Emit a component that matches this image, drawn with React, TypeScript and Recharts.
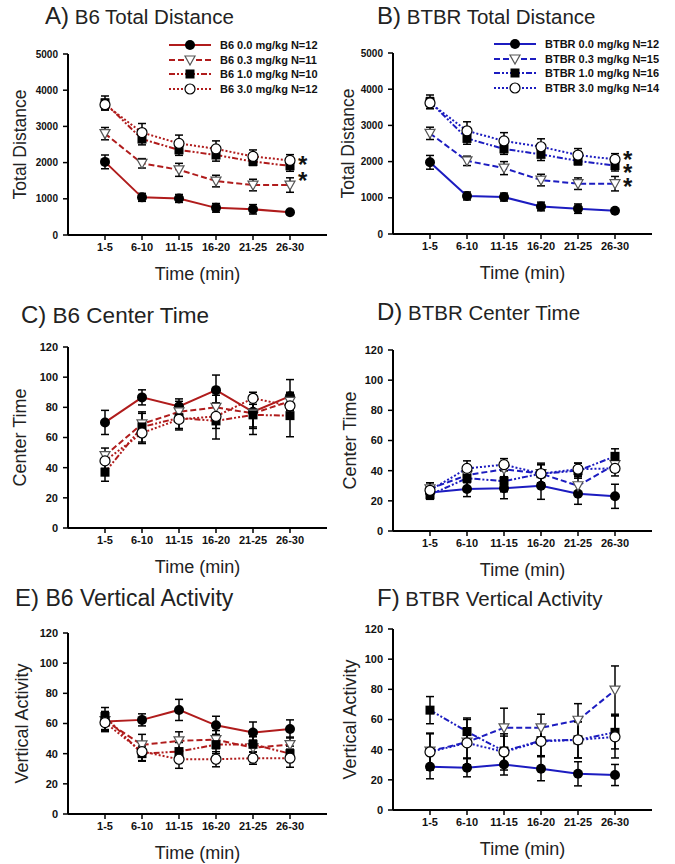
import React from "react";
import { LineChart, Line, XAxis, YAxis, ErrorBar, Legend } from "recharts";

const timeBins = ["1-5", "6-10", "11-15", "16-20", "21-25", "26-30"];
const doseLabels = ["0.0", "0.3", "1.0", "3.0"];
const b6Counts = [12, 11, 10, 12];
const btbrCounts = [12, 15, 16, 14];

// one row per dose (0.0, 0.3, 1.0, 3.0), one value per time bin
const b6DistMean = [
  [2020, 1040, 1010, 750, 710, 630],
  [2800, 1980, 1800, 1490, 1380, 1380],
  [3650, 2650, 2350, 2210, 2030, 1910],
  [3600, 2830, 2530, 2380, 2170, 2060],
];
const b6DistErr = [
  [190, 110, 110, 120, 130, 50],
  [170, 130, 180, 160, 160, 200],
  [190, 160, 150, 170, 110, 150],
  [150, 250, 230, 220, 180, 160],
];
const btbrDistMean = [
  [1980, 1050, 1020, 760, 700, 640],
  [2780, 2020, 1820, 1490, 1390, 1390],
  [3650, 2640, 2350, 2200, 2020, 1890],
  [3620, 2850, 2570, 2410, 2180, 2060],
];
const btbrDistErr = [
  [190, 110, 110, 120, 130, 50],
  [170, 130, 180, 160, 160, 200],
  [190, 160, 150, 170, 110, 150],
  [150, 250, 230, 220, 180, 160],
];
const b6CenterMean = [
  [70, 86.6, 80.6, 91.4, 77, 87.4],
  [48, 69, 77, 80, 76, 84],
  [37, 67, 73, 71, 75, 74.5],
  [44.5, 63, 72, 74, 86, 81],
];
const b6CenterErr = [
  [8, 5, 5, 10, 10, 11],
  [5, 7, 7, 8, 10, 6],
  [6, 10, 8, 12, 13, 14],
  [5, 7, 6, 8, 4, 8],
];
const btbrCenterMean = [
  [25.5, 27.8, 28.4, 30, 24.7, 23],
  [28, 37, 41, 38, 30, 44],
  [24, 35, 33, 38, 40, 49.5],
  [27, 41.5, 44, 38, 41, 41.5],
];
const btbrCenterErr = [
  [3, 5, 7, 9, 7, 8],
  [4, 5, 5, 6, 6, 5],
  [3, 6, 7, 6, 5, 5],
  [5, 5, 4, 7, 4, 5],
];
const b6VertMean = [
  [61.3, 62.4, 69, 58.8, 54, 56.4],
  [62, 45.8, 48.5, 49.3, 44, 46],
  [64.6, 40, 41.4, 46, 46.2, 40],
  [60.6, 41.4, 36.3, 36.3, 37, 37],
];
const b6VertErr = [
  [6, 4, 7, 6, 7, 6],
  [6, 7, 6, 6, 5, 5],
  [6, 5, 6, 6, 5, 5],
  [6, 6, 6, 5, 4, 6],
];
const btbrVertMean = [
  [28.7, 28, 30.2, 27.4, 24, 23.2],
  [39, 45, 54.5, 54.5, 59.5, 79.5],
  [66.2, 52, 39, 46, 46.5, 51.5],
  [38.5, 44.5, 38.5, 45.5, 46.5, 48.5],
];
const btbrVertErr = [
  [8, 6, 7, 8, 8, 7],
  [12, 15, 13, 9, 11, 16],
  [9, 9, 10, 10, 12, 11],
  [12, 10, 12, 10, 12, 14],
];

const distTicks = [0, 1000, 2000, 3000, 4000, 5000];
const pctTicks = [0, 20, 40, 60, 80, 100, 120];

const RED = "#b01c1c";
const BLUE = "#1c1cc0";
const font = "Arial, 'Liberation Sans', sans-serif";

const seriesStyle = [
  { dash: undefined, shape: "circle" },
  { dash: "6 3", shape: "triangle" },
  { dash: "6 2 2 2 2 2", shape: "square" },
  { dash: "2 2", shape: "open" },
];

const Marker = ({ shape, cx, cy }: any) => {
  if (shape === "circle") return <circle cx={cx} cy={cy} r={5} fill="#000" />;
  if (shape === "square")
    return <rect x={cx - 4.5} y={cy - 4.5} width={9} height={9} fill="#000" />;
  if (shape === "triangle")
    return (
      <polygon
        points={`${cx - 5},${cy - 4} ${cx + 5},${cy - 4} ${cx},${cy + 5}`}
        fill="#fff"
        stroke="#555"
        strokeWidth={1.2}
      />
    );
  return <circle cx={cx} cy={cy} r={5} fill="#fff" stroke="#000" strokeWidth={1.2} />;
};

const LegendBox = ({ strain, counts, color }: any) => (
  <div style={{ fontFamily: font, fontSize: 11, fontWeight: "bold", color: "#111" }}>
    {doseLabels.map((d, i) => (
      <div key={d} style={{ display: "flex", alignItems: "center", height: 14.5 }}>
        <svg width={44} height={14}>
          <line
            x1={1}
            y1={7}
            x2={43}
            y2={7}
            stroke={color}
            strokeWidth={2}
            strokeDasharray={seriesStyle[i].dash}
          />
          <Marker shape={seriesStyle[i].shape} cx={22} cy={7} />
        </svg>
        <span style={{ marginLeft: 8, whiteSpace: "nowrap" }}>
          {`${strain} ${d} mg/kg N=${counts[i]}`}
        </span>
      </div>
    ))}
  </div>
);

type PanelProps = {
  left: number;
  top: number;
  letter: string;
  title: string;
  titleLeft: number;
  titleCenter: number;
  titleSize: number;
  strain: string;
  counts: number[];
  color: string;
  means: number[][];
  errs: number[][];
  yMax: number;
  yTicks: number[];
  yTickSize: number;
  yLabel: string;
  yLabelSize: number;
  yTitleX: number;
  legend?: boolean;
  stars?: { s: number; dy: number }[];
};

const Panel = (p: PanelProps) => {
  const rows = timeBins.map((t, j) => {
    const r: any = { x: j + 1, bin: t };
    p.means.forEach((m, i) => {
      r[`m${i}`] = m[j];
      r[`e${i}`] = p.errs[i][j];
    });
    return r;
  });

  const yTitle = (lp: any) => {
    const vb = lp.viewBox || {};
    const cy = (vb.y ?? 55) + (vb.height ?? 181) / 2;
    return (
      <text
        x={p.yTitleX}
        y={cy}
        transform={`rotate(-90 ${p.yTitleX} ${cy})`}
        textAnchor="middle"
        dominantBaseline="central"
        fontFamily={font}
        fontSize={p.yLabelSize}
        fill="#222"
      >
        {p.yLabel}
      </text>
    );
  };

  const starLabel = (i: number) => {
    const st = (p.stars || []).find((s) => s.s === i);
    if (!st) return undefined;
    return (lp: any) => {
      if (lp.index !== 5) return null;
      const x = lp.x ?? lp.viewBox?.x;
      const y = lp.y ?? lp.viewBox?.y;
      return (
        <text
          key={`star${i}`}
          x={x + 8}
          y={y + 13 + st.dy}
          fontFamily={font}
          fontSize={24}
          fontWeight="bold"
          fill="#111"
        >
          *
        </text>
      );
    };
  };

  return (
    <div style={{ position: "absolute", left: p.left, top: p.top, width: 340, height: 290 }}>
      <div
        style={{
          position: "absolute",
          left: p.titleLeft,
          top: p.titleCenter - 14,
          lineHeight: "28px",
          fontFamily: font,
          color: "#222",
          whiteSpace: "nowrap",
        }}
      >
        <span style={{ fontSize: 24 }}>{p.letter}</span>
        <span style={{ fontSize: p.titleSize }}> {p.title}</span>
      </div>
      <div style={{ position: "absolute", left: 0, top: 0 }}>
        <LineChart
          width={340}
          height={290}
          data={rows}
          margin={{ top: 55, right: 13, bottom: 4, left: 18 }}
        >
          <XAxis
            type="number"
            dataKey="x"
            domain={[0, 7]}
            ticks={[1, 2, 3, 4, 5, 6]}
            interval={0}
            tickFormatter={(v: number) => timeBins[v - 1]}
            height={50}
            tickSize={5}
            tickMargin={3}
            axisLine={{ stroke: "#000", strokeWidth: 2 }}
            tickLine={{ stroke: "#000", strokeWidth: 1.5 }}
            tick={{ fontSize: 11, fontWeight: "bold", fill: "#111", fontFamily: font }}
            label={{
              value: "Time (min)",
              position: "insideBottom",
              offset: 5,
              style: { fontSize: 18, fill: "#222", fontFamily: font },
            }}
          />
          <YAxis
            type="number"
            domain={[0, p.yMax]}
            ticks={p.yTicks}
            interval={0}
            width={50}
            tickSize={5}
            tickMargin={5}
            axisLine={{ stroke: "#000", strokeWidth: 2 }}
            tickLine={{ stroke: "#000", strokeWidth: 1.5 }}
            tick={{ fontSize: p.yTickSize, fontWeight: "bold", fill: "#111", fontFamily: font }}
            label={{ value: p.yLabel, content: yTitle }}
          />
          {p.legend && (
            <Legend
              layout="horizontal"
              verticalAlign="middle"
              align="center"
              wrapperStyle={{ left: 168, top: 39, width: "auto", height: "auto" }}
              content={() => <LegendBox strain={p.strain} counts={p.counts} color={p.color} />}
            />
          )}
          {doseLabels.map((d, i) => (
            <Line
              key={d}
              type="linear"
              dataKey={`m${i}`}
              name={`${p.strain} ${d} mg/kg N=${p.counts[i]}`}
              stroke={p.color}
              strokeWidth={2}
              strokeDasharray={seriesStyle[i].dash}
              isAnimationActive={false}
              dot={(dp: any) => (
                <Marker
                  key={`dot-${i}-${dp.index}`}
                  shape={seriesStyle[i].shape}
                  cx={dp.cx}
                  cy={dp.cy}
                />
              )}
              activeDot={false}
              label={starLabel(i)}
            >
              <ErrorBar
                dataKey={`e${i}`}
                direction="y"
                width={4}
                stroke="#000"
                strokeWidth={1.5}
                isAnimationActive={false}
              />
            </Line>
          ))}
        </LineChart>
      </div>
    </div>
  );
};

export default function App() {
  return (
    <div
      style={{
        position: "absolute",
        left: 0,
        top: 0,
        width: 675,
        height: 864,
        background: "#fff",
        overflow: "hidden",
      }}
    >
      <Panel
        left={0}
        top={-1}
        letter="A)"
        title="B6 Total Distance"
        titleLeft={45}
        titleCenter={17}
        titleSize={20.5}
        strain="B6"
        counts={b6Counts}
        color={RED}
        means={b6DistMean}
        errs={b6DistErr}
        yMax={5000}
        yTicks={distTicks}
        yTickSize={10}
        yLabel="Total Distance"
        yLabelSize={17.5}
        yTitleX={20}
        legend
        stars={[
          { s: 3, dy: 0 },
          { s: 1, dy: -9 },
        ]}
      />
      <Panel
        left={325}
        top={-2}
        letter="B)"
        title="BTBR Total Distance"
        titleLeft={52}
        titleCenter={18}
        titleSize={20.5}
        strain="BTBR"
        counts={btbrCounts}
        color={BLUE}
        means={btbrDistMean}
        errs={btbrDistErr}
        yMax={5000}
        yTicks={distTicks}
        yTickSize={10}
        yLabel="Total Distance"
        yLabelSize={17.5}
        yTitleX={23}
        legend
        stars={[
          { s: 3, dy: -4 },
          { s: 2, dy: 2 },
          { s: 1, dy: -2 },
        ]}
      />
      <Panel
        left={0}
        top={292}
        letter="C)"
        title="B6 Center Time"
        titleLeft={21}
        titleCenter={23}
        titleSize={22.5}
        strain="B6"
        counts={b6Counts}
        color={RED}
        means={b6CenterMean}
        errs={b6CenterErr}
        yMax={120}
        yTicks={pctTicks}
        yTickSize={11}
        yLabel="Center Time"
        yLabelSize={18}
        yTitleX={20}
      />
      <Panel
        left={325}
        top={295}
        letter="D)"
        title="BTBR Center Time"
        titleLeft={52}
        titleCenter={17}
        titleSize={20.5}
        strain="BTBR"
        counts={btbrCounts}
        color={BLUE}
        means={btbrCenterMean}
        errs={btbrCenterErr}
        yMax={120}
        yTicks={pctTicks}
        yTickSize={11}
        yLabel="Center Time"
        yLabelSize={18}
        yTitleX={25}
      />
      <Panel
        left={0}
        top={578}
        letter="E)"
        title="B6 Vertical Activity"
        titleLeft={15}
        titleCenter={20}
        titleSize={23}
        strain="B6"
        counts={b6Counts}
        color={RED}
        means={b6VertMean}
        errs={b6VertErr}
        yMax={120}
        yTicks={pctTicks}
        yTickSize={11}
        yLabel="Vertical Activity"
        yLabelSize={18}
        yTitleX={22}
      />
      <Panel
        left={325}
        top={574}
        letter="F)"
        title="BTBR Vertical Activity"
        titleLeft={52}
        titleCenter={24}
        titleSize={20.5}
        strain="BTBR"
        counts={btbrCounts}
        color={BLUE}
        means={btbrVertMean}
        errs={btbrVertErr}
        yMax={120}
        yTicks={pctTicks}
        yTickSize={11}
        yLabel="Vertical Activity"
        yLabelSize={18}
        yTitleX={25}
      />
    </div>
  );
}
